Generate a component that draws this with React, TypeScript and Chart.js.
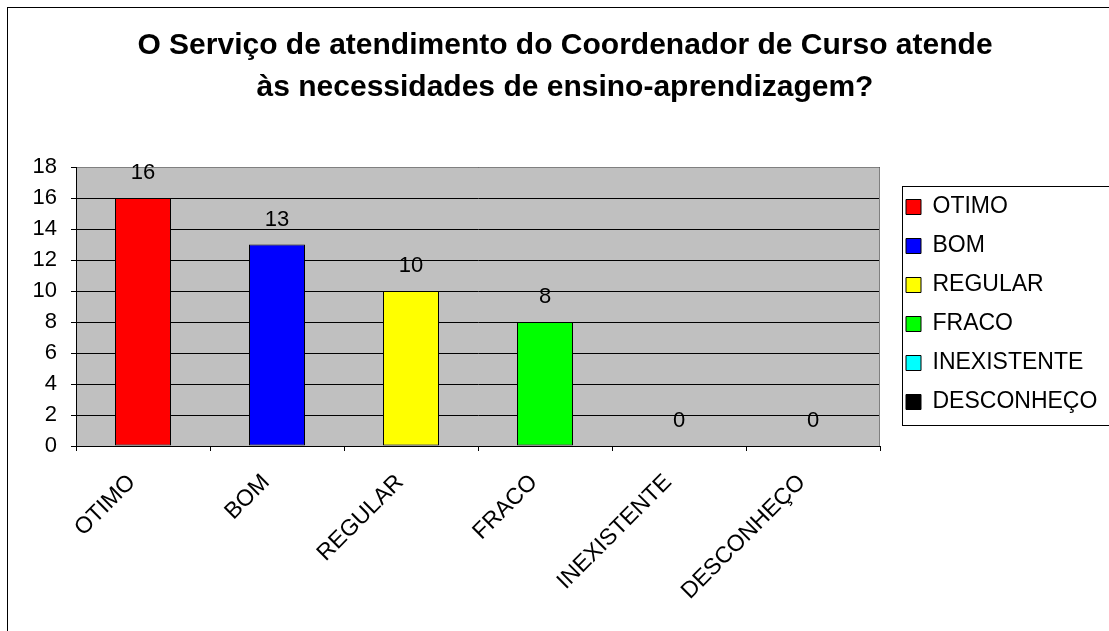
import React, { useEffect, useRef } from 'react';
import { Chart, registerables } from 'chart.js';

Chart.register(...registerables);

const TITLE_LINES = [
  'O Serviço de atendimento do Coordenador de Curso atende',
  'às necessidades de ensino-aprendizagem?',
];
const CATEGORIES = ['OTIMO', 'BOM', 'REGULAR', 'FRACO', 'INEXISTENTE', 'DESCONHEÇO'];
const VALUES = [16, 13, 10, 8, 0, 0];
const BAR_COLORS = ['#FF0000', '#0000FF', '#FFFF00', '#00FF00', '#00FFFF', '#000000'];
const Y_MIN = 0;
const Y_MAX = 18;
const Y_STEP = 2;

const W = 1109;
const H = 631;
const FONT = '"Liberation Sans", Arial, Helvetica, sans-serif';

// layout targets
const PLOT_LEFT = 76;
const PLOT_RIGHT = 880;
const PLOT_BOTTOM = 446;
const PAD_BOTTOM = 22;
const RIGHT_GAP = 10;
const LEGEND_FONT = 23;
const LEGEND_BOX = 15;
const LEGEND_PAD = 16;
const TITLE_CENTER = 565;

export default function App() {
  const ref = useRef<HTMLCanvasElement | null>(null);

  useEffect(() => {
    const canvas = ref.current;
    if (!canvas) return;
    const mctx = canvas.getContext('2d')!;
    mctx.font = `${LEGEND_FONT}px ${FONT}`;
    const maxText = Math.max(...CATEGORIES.map((c) => mctx.measureText(c).width));
    const legendWidth = LEGEND_BOX + LEGEND_FONT / 2 + maxText + 10 + LEGEND_PAD;
    const legendLeft = PLOT_RIGHT + RIGHT_GAP;
    const padR = W - legendLeft - legendWidth;
    const padL = 2 * TITLE_CENTER - (legendLeft + legendWidth);
    const yWidth = PLOT_LEFT - padL;

    const decor = {
      id: 'decor',
      beforeDraw(chart: any) {
        const { ctx, chartArea } = chart;
        ctx.save();
        ctx.fillStyle = '#C0C0C0';
        ctx.fillRect(chartArea.left, chartArea.top, chartArea.right - chartArea.left, chartArea.bottom - chartArea.top);
        ctx.restore();
      },
      beforeDatasetsDraw(chart: any) {
        const { ctx, chartArea } = chart;
        ctx.save();
        ctx.strokeStyle = '#808080';
        ctx.lineWidth = 1;
        ctx.beginPath();
        const ty = Math.round(chartArea.top) + 0.5;
        const rx = Math.round(chartArea.right) - 0.5;
        ctx.moveTo(Math.round(chartArea.left) + 1, ty);
        ctx.lineTo(rx, ty);
        ctx.lineTo(rx, Math.round(chartArea.bottom));
        ctx.stroke();
        ctx.restore();
      },
      afterDatasetsDraw(chart: any) {
        const { ctx } = chart;
        const meta = chart.getDatasetMeta(0);
        ctx.save();
        ctx.font = `22px ${FONT}`;
        ctx.fillStyle = '#000';
        ctx.textAlign = 'center';
        ctx.textBaseline = 'middle';
        meta.data.forEach((el: any, i: number) => {
          ctx.fillText(String(VALUES[i]), el.x, el.y - 25);
        });
        ctx.restore();
      },
      afterDraw(chart: any) {
        const { ctx } = chart;
        ctx.save();
        ctx.strokeStyle = '#000';
        ctx.lineWidth = 1;
        ctx.strokeRect(7.5, 7.5, W + 50, H + 50);
        const hb = chart.legend && chart.legend.legendHitBoxes;
        if (hb && hb.length) {
          const top = Math.round(hb[0].top - 9.5) + 0.5;
          const bottom = Math.round(hb[hb.length - 1].top + 34.5) + 0.5;
          const left = Math.round(hb[0].left - 4) + 0.5;
          ctx.strokeRect(left, top, W, bottom - top);
        }
        ctx.restore();
      },
    };

    const chart = new Chart(canvas, {
      type: 'bar',
      data: {
        labels: CATEGORIES,
        datasets: [
          {
            data: VALUES,
            backgroundColor: BAR_COLORS,
            borderColor: '#000',
            borderWidth: 1,
            borderSkipped: false,
            barPercentage: 0.418,
            categoryPercentage: 1,
          },
        ],
      },
      options: {
        responsive: false,
        animation: false,
        layout: { padding: { left: padL, right: padR, top: 0, bottom: PAD_BOTTOM } },
        plugins: {
          tooltip: { enabled: false },
          title: {
            display: true,
            text: TITLE_LINES,
            color: '#000',
            font: { family: FONT, size: 30, weight: 'bold', lineHeight: 1.4 },
            padding: { top: 25, bottom: 58 },
          },
          legend: {
            display: true,
            position: 'right',
            align: 'center',
            maxWidth: 400,
            onClick: () => {},
            labels: {
              color: '#000',
              font: { family: FONT, size: LEGEND_FONT },
              boxWidth: LEGEND_BOX,
              boxHeight: LEGEND_BOX,
              padding: LEGEND_PAD,
              generateLabels: () =>
                CATEGORIES.map((c, i) => ({
                  text: c,
                  fillStyle: BAR_COLORS[i],
                  strokeStyle: '#000',
                  lineWidth: 1,
                  hidden: false,
                  index: i,
                  datasetIndex: 0,
                  fontColor: '#000',
                })),
            },
          },
        },
        scales: {
          x: {
            type: 'category',
            offset: true,
            clip: false,
            grid: {
              offset: true,
              drawOnChartArea: false,
              drawTicks: true,
              tickLength: 5,
              color: '#000',
            },
            border: { display: true, color: '#000', width: 1 },
            ticks: {
              color: '#000',
              font: { family: FONT, size: 23 },
              minRotation: 45,
              maxRotation: 45,
              autoSkip: false,
              padding: 18,
              labelOffset: -11,
            },
            afterFit: (scale: any) => {
              scale.height = H - PAD_BOTTOM - PLOT_BOTTOM;
            },
          },
          y: {
            type: 'linear',
            position: 'left',
            min: Y_MIN,
            max: Y_MAX,
            clip: false,
            grid: { color: '#000', lineWidth: 1, tickLength: 5, drawTicks: true },
            border: { display: true, color: '#000', width: 1 },
            ticks: {
              stepSize: Y_STEP,
              color: '#000',
              font: { family: FONT, size: 22 },
              padding: 14,
            },
            afterFit: (scale: any) => {
              scale.width = yWidth;
            },
          },
          gap: {
            type: 'linear',
            position: 'right',
            display: true,
            grid: { display: false, drawTicks: false },
            border: { display: false },
            ticks: { display: false },
            afterFit: (scale: any) => {
              scale.width = RIGHT_GAP;
            },
          },
        },
      } as any,
      plugins: [decor],
    });

    return () => chart.destroy();
  }, []);

  return (
    <div style={{ position: 'absolute', left: 0, top: 0, width: W, height: H, background: '#fff' }}>
      <canvas ref={ref} width={W} height={H} style={{ display: 'block' }} />
    </div>
  );
}
